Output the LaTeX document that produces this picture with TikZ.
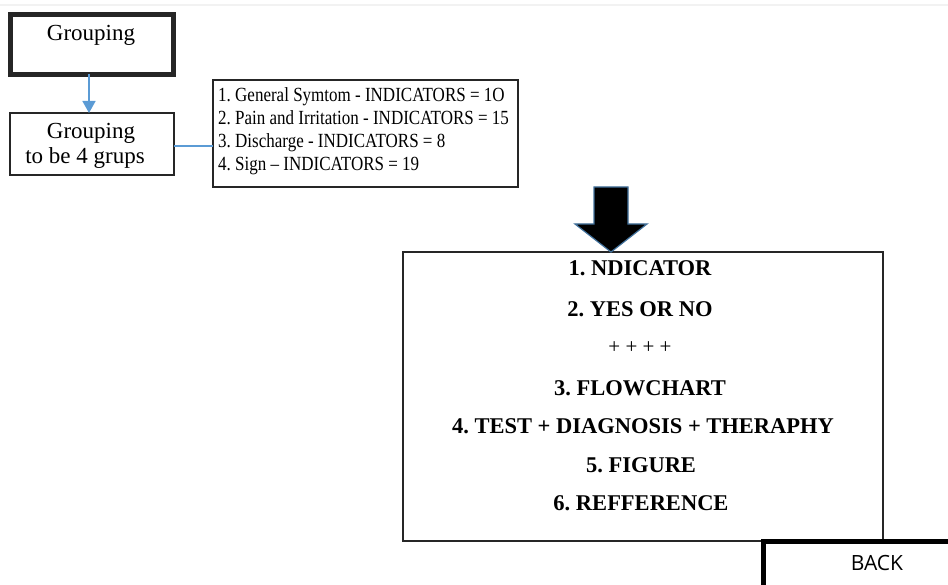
\documentclass[tikz,border=0pt]{standalone}
\usepackage{fontspec}
\setmainfont{Liberation Serif}
\newfontfamily\btnfont{Open Sans}
\usetikzlibrary{arrows.meta,calc}
\definecolor{linkblue}{HTML}{5B9BD5}
\definecolor{edgeblue}{HTML}{41719C}
\begin{document}
\frenchspacing
\begin{tikzpicture}[x=1pt,y=-1pt,
  box/.style={draw=black!85,line width=1.3pt,inner sep=0pt,outer sep=0pt},
  heavybox/.style={box,line width=5pt},
  label/.style={inner sep=0pt,font=\fontsize{23}{26}\selectfont},
  link/.style={draw=linkblue,line width=1.6pt},
  item/.style={font=\bfseries\fontsize{22.5}{26}\selectfont,inner sep=0pt}]
\useasboundingbox (0,0) rectangle (948,585);
% faint rule along the top edge
\fill[black!5] (0,4) rectangle (948,6);

% left column
\node[heavybox,minimum width=163pt,minimum height=60pt] (grp) at (92,44.5) {};
\node[label] (grpt) at (91,35) {Grouping};
\node[box,minimum width=164pt,minimum height=62pt] (grp4) at (92,144) {};
\node[label] (grp4a) at (91,133) {Grouping};
\node[label] (grp4b) at (85,158) {to be 4 grups};
\draw[link,-{Triangle[length=12pt,width=13pt]}] (89,0 |- grp.south) -- (89,0 |- grp4.north);

% list of the four groups
\node[box,minimum width=305pt,minimum height=107pt] (groups) at (365.5,133.5) {};
\node[inner sep=0pt,anchor=west,font=\fontsize{17}{19.5}\selectfont]
  (groupst) at (218,131)
  {\scalebox{1}[1.18]{\begin{tabular}{@{}l@{}}
   1. General Symtom - INDICATORS = 1O\\
   2. Pain and Irritation - INDICATORS = 15\\
   3. Discharge - INDICATORS = 8\\
   4. Sign -- INDICATORS = 19\end{tabular}}};
\draw[link] (grp4.east |- 0,146) -- (groups.west |- 0,146);

% contents box
\node[box,minimum width=480pt,minimum height=289pt] (content) at (643,396.5) {};
\node[item] (i1) at (640,268) {1. NDICATOR};
\node[item] (i2) at (640,309) {2. YES OR NO};
\node[item,font=\fontsize{21}{24}\selectfont] (i3) at (640,348) {+ + + +};
\node[item] (i4) at (640,388) {3. FLOWCHART};
\node[item] (i5) at (643,426) {4. TEST + DIAGNOSIS + THERAPHY};
\node[item] (i6) at (641,465) {5. FIGURE};
\node[item] (i7) at (641,503) {6. REFFERENCE};

% block arrow from the list down to the contents box
\coordinate (tip) at (611,0 |- content.north);
\coordinate (base) at (611,0 |- groups.south);
\fill[black,draw=edgeblue,line width=1.2pt,line join=miter]
  ($(base)+(-17,0)$) -- ($(base)+(17,0)$) -- ($(tip)+(17,-28)$)
  -- ($(tip)+(36,-28)$) -- (tip) -- ($(tip)+(-36,-28)$)
  -- ($(tip)+(-17,-28)$) -- cycle;

% back button
\node[inner sep=0pt,font=\btnfont\fontsize{21}{24}\selectfont] (back) at (877,563) {BACK};
\draw[line width=5pt,line cap=rect] (763,590) -- (763,541.5) -- (950,541.5);
\end{tikzpicture}
\end{document}
